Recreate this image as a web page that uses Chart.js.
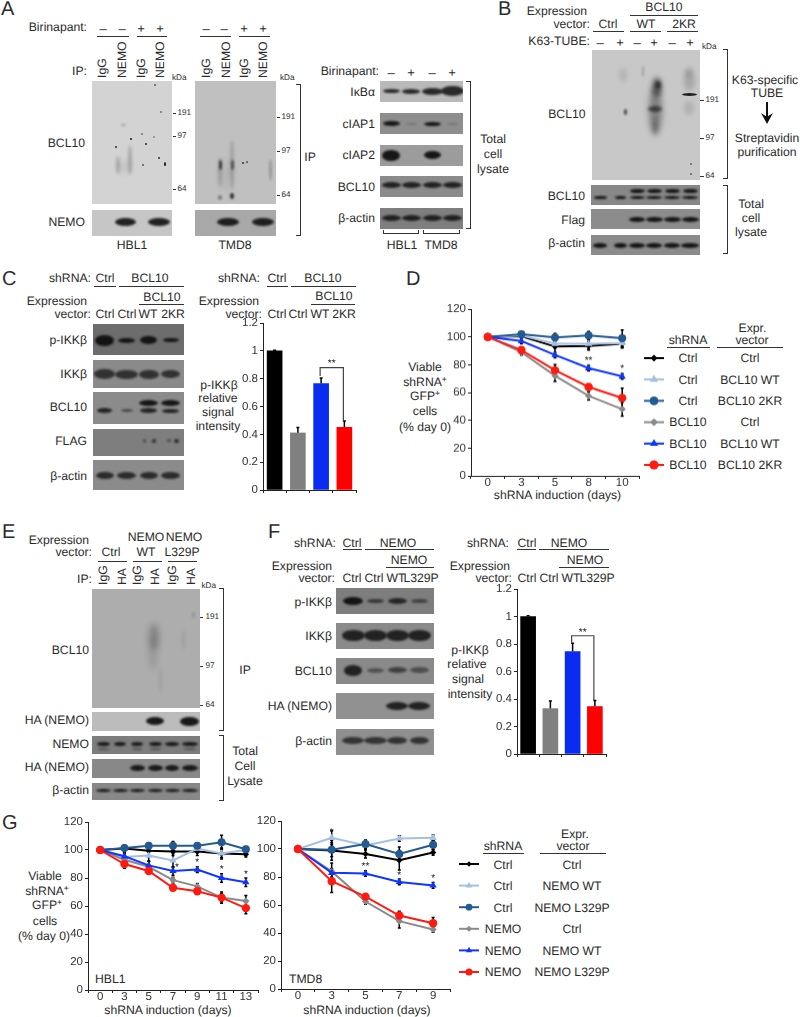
<!DOCTYPE html>
<html><head><meta charset="utf-8">
<script src="https://cdn.jsdelivr.net/npm/chart.js@4"></script>
<style>
html,body{margin:0;padding:0;background:#fff;width:800px;height:1017px;overflow:hidden;position:relative;font-family:"Liberation Sans",Arial,sans-serif;color:#2b2b2b;text-rendering:geometricPrecision}
.t{position:absolute;white-space:nowrap;line-height:1}
.l{position:absolute;background:#333}
.b{position:absolute;overflow:hidden}
.b i{position:absolute;border-radius:50%;display:block}
.br{position:absolute;border:1px solid #333;border-left:none;box-sizing:border-box}
canvas{position:absolute}
sup{font-size:.7em;line-height:0;vertical-align:.45em}
</style></head><body>
<script>
// ---------- chart values ----------
const barLabels = ['Ctrl','Ctrl','WT','2KR'];
const barColors = ['#000000','#808080','#0a2cf0','#ff0000'];
const barC = [1, 0.41, 0.765, 0.45];
const barCerr = [0.005, 0.04, 0.04, 0.045];
const barF = [1, 0.33, 0.745, 0.345];
const barFerr = [0.005, 0.055, 0.06, 0.045];

const daysD = ['0','3','5','8','10'];
const dBlack = [100,100.5,93,93.5,95];
const dLight = [100,101,95,95,95.5];
const dDark  = [100,102,99.5,101,99];
const dGray  = [100,89,72,57.5,48];
const dBlue  = [100,97,87,77.5,71.5];
const dRed   = [100,90.5,76,64,56];
const dBlackE = [0,1,6,3,3];
const dLightE = [0,1,3,4,3];
const dDarkE  = [0,1,3,3,6];
const dGrayE  = [0,2,4,3,5];
const dBlueE  = [0,2,2,2,2];
const dRedE   = [0,2,4,2,7];

const daysG1 = ['0','3','5','7','9','11','13'];
const g1Black = [100,101,99.5,99,99,97.5,97];
const g1Light = [100,95,96,92.5,101,97.5,100];
const g1Dark  = [100,101.5,103,103,103,105.5,100.5];
const g1Gray  = [100,93,88,78.5,74,66,63.5];
const g1Blue  = [100,95.5,89,85,86,80,77];
const g1Red   = [100,90,85,73,70.5,66,58.5];
const g1BlackE = [0,2,4,3,3,3,2];
const g1LightE = [0,3,4,5,3,4,2];
const g1DarkE  = [0,2,2,3,2,5,2];
const g1GrayE  = [0,3,4,2,2,3,4];
const g1BlueE  = [0,2,3,3,2,3,3];
const g1RedE   = [0,3,2,2,2,4,4];

const daysG2 = ['0','3','5','7','9'];
const g2Black = [100,99,96.5,92,97.5];
const g2Light = [100,108,102.5,107.5,108];
const g2Dark  = [100,99.5,103.5,96.5,103];
const g2Gray  = [100,84,62.5,48.5,42.5];
const g2Blue  = [100,83,82.5,76.5,74];
const g2Red   = [100,77,66,52.5,47];
const g2BlackE = [0,7,3,7,2];
const g2LightE = [0,5,3,2,2];
const g2DarkE  = [0,5,3,5,3];
const g2GrayE  = [0,6,2,5,2];
const g2BlueE  = [0,3,2,2,2];
const g2RedE   = [0,8,2,3,4];

const seriesStyle = [
 {color:'#000000',style:'rectRot',r:3.2},
 {color:'#a6bfe2',style:'triangle',r:4.2},
 {color:'#245a92',style:'circle',r:4},
 {color:'#8a8a8a',style:'rectRot',r:3.6},
 {color:'#0f35ff',style:'triangle',r:4.2},
 {color:'#ff1a10',style:'circle',r:4.2}
];
const legendX = [0,0.5,1];
const legendRows = [0,1,2,3,4,5];

// ---------- DOM helpers ----------
const FF='"Liberation Sans",Arial,sans-serif';
const BASE=12.2, SMALL=8.2;
function T(s,x,y,a,size){ // a: l/r/c
  const d=document.createElement('div');d.className='t';d.innerHTML=s;
  d.style.fontSize=(size||BASE)+'px';d.style.left=x+'px';d.style.top=y+'px';
  d.style.transform='translate('+(a==='r'?'-100%':a==='c'?'-50%':'0')+',-50%)';
  document.body.appendChild(d);
}
function VT(s,x,bottom){ // rotated label
  const d=document.createElement('div');d.className='t';d.textContent=s;
  d.style.fontSize=BASE+'px';document.body.appendChild(d);
  const h=d.offsetHeight;
  d.style.transformOrigin='0 0';
  d.style.left=(x-h/2)+'px';d.style.top=bottom+'px';d.style.transform='rotate(-90deg)';
}
function H(x1,x2,y){const d=document.createElement('div');d.className='l';d.style.cssText+='left:'+x1+'px;top:'+y+'px;width:'+(x2-x1)+'px;height:1px';document.body.appendChild(d);}
function BR(x,y1,y2){const d=document.createElement('div');d.className='br';d.style.cssText+='left:'+(x-4)+'px;top:'+y1+'px;width:5px;height:'+(y2-y1)+'px';document.body.appendChild(d);}
function U(x1,x2,y){const d=document.createElement('div');d.className='br';d.style.cssText+='left:'+x1+'px;top:'+y+'px;width:'+(x2-x1)+'px;height:4px;border:1px solid #333;border-top:none';document.body.appendChild(d);}
function BL(x1,y1,x2,y2,bg,bands){
  const d=document.createElement('div');d.className='b';
  d.style.cssText+='left:'+x1+'px;top:'+y1+'px;width:'+(x2-x1)+'px;height:'+(y2-y1)+'px;background:'+bg;
  (bands||[]).forEach(k=>{const [cx,cy,w,h,al,bl]=k;const i=document.createElement('i');
    i.style.cssText='left:'+(cx-w/2-x1)+'px;top:'+(cy-h/2-y1)+'px;width:'+w+'px;height:'+h+'px;background:rgba(15,15,15,'+(al==null?0.9:al)+');filter:blur('+(bl==null?1:bl)+'px)';
    d.appendChild(i);});
  document.body.appendChild(d);
}
function row(y,xs,w,h,al,jit){return xs.map((x,i)=>[x,y,Array.isArray(w)?w[i]:w,Array.isArray(h)?h[i]:h,Array.isArray(al)?al[i]:al,jit]);}

// ---------- Panel A ----------
T('A',1,9,'l',20);
T('Birinapant:',87,27,'r');
[[103,'–'],[122,'–'],[141,'+'],[160,'+'],[206,'–'],[224,'–'],[244,'+'],[263,'+']].forEach(p=>T(p[1],p[0],27.5,'c',13));
H(97,129,36);H(137,167,36);H(200,231,36);H(239,270,36);
T('IP:',87,71,'r');
[[102,'IgG'],[122,'NEMO'],[141,'IgG'],[160,'NEMO'],[206,'IgG'],[226,'NEMO'],[244,'IgG'],[263,'NEMO']].forEach(p=>VT(p[1],p[0],78));
T('kDa',172,77.5,'l',SMALL);T('kDa',280,77.5,'l',SMALL);
BL(92,81,172,204,'#d3d3d3',[[118,165,4,18,.2,1.5],[130,160,4,30,.22,1.5],[124,167,14,12,.07,3],[123,125,5,2,.25,1],[116,147,2,2.5,.8,.4],[131,139,2,2.5,.9,.4],[146,144,2.5,2.5,.9,.4],[159,158,2,2.5,.8,.4],[165,164,2.5,4,.9,.4],[143,165,1.5,1.5,.55,.4],[155,85,1.5,1.5,.55,.4],[161,112,1.5,2.5,.45,.4],[142,134,1.5,1.5,.45,.4],[154,137,2.5,1.5,.35,.4]]);
BL(92,210,172,235.5,'#c6c6c6',row(222,[125.5,159],[21,22],8,.9));
BL(195,81,276,204,'#c0c0c0',[[220,165,3,10,.7,1],[232,165,3,10,.55,1],[220,172,4,30,.16,1.5],[232,165,4,50,.18,1.5],[226,175,14,30,.06,3],[220,197,4,5,.4,1],[232,196,4,6,.8,1],[243,163,1.5,1.5,.75,.4],[247,162,1.5,1.5,.55,.4],[270,170,3,22,.22,1.2]]);
BL(195,210,276,235.5,'#a8a8a8',row(222,[228,263],[22,22],8,.9));
T('HBL1',132,245,'c');T('TMD8',235,245,'c');
[[113,'191'],[136,'97'],[189,'64']].forEach(p=>{H(173,176,p[0]);T(p[1],177.5,p[0],'l',SMALL);});
[[117,'191'],[151,'97'],[195,'64']].forEach(p=>{H(277,280,p[0]);T(p[1],281.5,p[0],'l',SMALL);});
T('BCL10',85,142.5,'r');T('NEMO',85,222,'r');
BR(300,84,236);T('IP',310,157,'c');
T('Birinapant:',379,71,'r');
[[391,'–'],[411,'+'],[432,'–'],[452,'+']].forEach(p=>T(p[1],p[0],71.5,'c',13));
const L4=[391,411,432,452];
BL(380,81,463,102,'#b9b9b9',row(91,L4,[17,18,21,23],[4,5,7,10],.85));
BL(380,113,463,134,'#8e8e8e',row(123.5,L4,[17,11,17,11],[5,2,4,2],[.95,.2,.95,.2]));
BL(380,144.5,463,165.5,'#9c9c9c',row(155,[391,432],[18,17],[11,8],.95));
BL(380,176,463,197,'#8b8b8b',row(185,L4,19,6,.85));
BL(380,207.5,463,228.5,'#7f7f7f',row(218,L4,19,6,.85));
[[92,'IκBα'],[124,'cIAP1'],[155,'cIAP2'],[187,'BCL10'],[218,'β-actin']].forEach(p=>T(p[1],375,p[0],'r'));
BR(470,81,229);
T('Total',493,139,'c');T('cell',493,154,'c');T('lysate',493,169,'c');
U(382.5,418.5,230);U(422.5,459.5,230);
T('HBL1',402,245,'c');T('TMD8',441,245,'c');

// ---------- Panel B ----------
T('B',498,9,'l',20);
T('Expression',587,11,'r');T('vector:',590,24,'r');
T('BCL10',664,7,'c');H(630,698,14.5);
T('Ctrl',608,24,'c');T('WT',646,24,'c');T('2KR',684,24,'c');
H(593,624,31);H(630,661,31);H(667,698,31);
T('K63-TUBE:',590,41,'r');
[[600,'–'],[620,'+'],[637,'–'],[654,'+'],[672,'–'],[690,'+']].forEach(p=>T(p[1],p[0],41.5,'c',13));
T('kDa',702,47,'l',SMALL);
BL(592,50,700,179.5,'#c8c8c8',[[625.5,112,3,6,.7,1],[623,75,8,14,.1,2],[643,71,2.5,11,.2,1],
 [655,110,13,48,.4,3],[657,87,10,20,.5,2.5],[658,85,6,8,.6,1.5],[655,109,14,6,.6,1.5],[655,127,6,18,.22,2],
 [689,94,15,3,.9,.7],[689,80,11,22,.18,2.5],[689,108,10,14,.12,2],[688,72,7,9,.1,2],[691,164,2.5,2.5,.55,.6],[691,174,2.5,2.5,.55,.6]]);
[[100,'191'],[138,'97'],[176,'64']].forEach(p=>{H(700,704,p[0]);T(p[1],705.5,p[0],'l',SMALL);});
T('BCL10',585.5,114,'r');
BR(727,49,179);
T('K63-specific',765,80,'c');T('TUBE',767,93,'c');
(function(){const a=document.createElement('div');a.className='l';a.style.cssText+='left:766px;top:102px;width:2px;height:16px;background:#111';document.body.appendChild(a);
const h=document.createElement('div');h.style.cssText='position:absolute;left:761px;top:113px;width:12px;height:11px;background:#111;clip-path:polygon(0 0,50% 35%,100% 0,50% 100%)';document.body.appendChild(h);})();
T('Streptavidin',767,138,'c');T('purification',767,152,'c');
const L6B=[600,620,637,654,672,690];
BL(591,185,700,205,'#888888',row(197.5,L6B,[13,11,15,16,16,16],3.5,.95).concat(row(190.5,[637,654,672,690],[15,15,15,15],4,.95)));
BL(591,209,700,229,'#8c8c8c',row(219.5,[637,654,672,690],[16,17,17,17],5,.95));
BL(591,235,700,255,'#8b8b8b',row(245,L6B,[14,13,16,16,16,18],5,.95));
T('BCL10',585,196,'r');T('Flag',585,220,'r');T('β-actin',585,243,'r');
BR(727,185,254);
T('Total',751,204,'c');T('cell',751,218,'c');T('lysate',751,232,'c');

// ---------- Panel C ----------
T('C',2,279,'l',20);
T('shRNA:',91,278,'r');T('Ctrl',105,278,'c');T('BCL10',150,278,'c');
H(94,116,286);H(119,184,286);
T('BCL10',162,296.5,'c');H(139,184,304);
T('Expression',87,301,'r');T('vector:',91,314,'r');
[[105,'Ctrl'],[127,'Ctrl'],[148,'WT'],[173,'2KR']].forEach(p=>T(p[1],p[0],314,'c'));
const LC=[105,127,149,171];
BL(92.7,323.5,184,355,'#6d6d6d',row(340,LC,[19,17,17,16],[11,5,8,4],.95));
BL(92.7,359.5,184,388,'#8a8a8a',row(374,LC,[21,23,20,19],[10,9,9,8],.72));
BL(92.7,392,184,424,'#8b8b8b',row(410.5,LC,[15,12,17,17],[5,3,5,4],[.85,.55,.85,.85]).concat(row(402.5,[149,171],19,6,.95)));
BL(92.7,429,184,456,'#7e7e7e',[[145,441,3,4,.45,1],[154,441,4,4,.7,1],[169,440.5,4,3,.5,1],[177,440.5,5,4,.75,1]]);
BL(92.7,460,184,489.5,'#8b8b8b',row(475,LC,[18,19,18,19],7,.78));
[[340,'p-IKKβ'],[374,'IKKβ'],[407,'BCL10'],[441,'FLAG'],[476,'β-actin']].forEach(p=>T(p[1],87,p[0],'r'));
T('shRNA:',260,277.5,'r');T('Ctrl',277,277.5,'c');T('BCL10',323,277.5,'c');
H(266.5,288,285.5);H(291,356,285.5);
T('BCL10',334,296,'c');H(311,355,303.5);
T('Expression',259,301,'r');T('vector:',262,314,'r');
[[277,'Ctrl'],[298,'Ctrl'],[320,'WT'],[344,'2KR']].forEach(p=>T(p[1],p[0],314,'c'));
T('p-IKKβ',219,385,'c');T('relative',218,398,'c');T('signal',218,412,'c');T('intensity',218,426,'c');

// ---------- Panel D ----------
T('D',406,279,'l',20);
[[367,'Viable',425],[382,'shRNA<sup>+</sup>',425],[396,'GFP<sup>+</sup>',425],[411,'cells',425],[427,'(% day 0)',425]].forEach(p=>T(p[1],p[2],p[0],'c'));
T('shRNA induction (days)',557.5,494.5,'c');
T('shRNA',688,340,'c');T('Expr.',752.5,328,'c');T('vector',752,340,'c');
H(667,710,347);H(717,783,347);
const lyD=[358,379.5,401,422,443.5,465];
const lD=[['Ctrl','Ctrl'],['Ctrl','BCL10 WT'],['Ctrl','BCL10 2KR'],['BCL10','Ctrl'],['BCL10','BCL10 WT'],['BCL10','BCL10 2KR']];
lD.forEach((r,i)=>{T(r[0],688,lyD[i],'c');T(r[1],750,lyD[i],'c');});

// ---------- Panel E ----------
T('E',2,532,'l',20);
T('Expression',89,540,'r');T('vector:',92,552,'r');
T('Ctrl',111,552,'c');T('NEMO',146,537,'c');T('WT',146,552,'c');T('NEMO',184,537,'c');T('L329P',182,552,'c');
H(98,127,561);H(133,162,561);H(168,197,561);
T('IP:',92,579,'r');
[[103,'IgG'],[121.5,'HA'],[137,'IgG'],[155,'HA'],[172,'IgG'],[191,'HA']].forEach(p=>VT(p[1],p[0],585));
T('kDa',201.5,586,'l',SMALL);
BL(92,588.5,200,707.5,'#adadad',[[154,637,10,26,.28,3],[153,655,8,30,.13,3],[160,680,3,24,.07,1.5],[183,640,3,20,.07,1.5],[193,615,3,6,.15,1]]);
[[616.5,'191'],[666,'97'],[705,'64']].forEach(p=>{H(200,203,p[0]);T(p[1],205.5,p[0],'l',SMALL);});
T('BCL10',89,650,'r');
BL(92,712,200,730.5,'#bcbcbc',row(721,[155,189],[18,19],[8,9],.95));
BL(92,735.5,200,754,'#7d7d7d',row(744,[103,120,137,155,172,190],[13,12,12,13,14,16],4,.9).concat(row(749,[103,137,155,190],[11,10,11,12],2,.4)));
BL(92,759,200,777.5,'#888888',row(767.5,[137,155,172,190],[15,15,14,16],6,.92));
BL(92,783,200,800,'#888888',row(790.5,[103,120,137,155,172,190],[15,15,15,15,15,16],3.5,.92));
T('HA (NEMO)',89,720,'r');T('NEMO',89,743.5,'r');T('HA (NEMO)',89,767,'r');T('β-actin',89,790,'r');
BR(223,588,730.5);T('IP',245,669.5,'c');
BR(223,735,801);T('Total',245,751,'c');T('Cell',245,766,'c');T('Lysate',245,781,'c');

// ---------- Panel F ----------
T('F',268,532,'l',20);
T('shRNA:',336,543,'r');T('Ctrl',352,543,'c');T('NEMO',398,543,'c');
H(342.5,362,549);H(364.5,434,549);
T('NEMO',409,560,'c');H(386,434,567);
T('Expression',332,565.5,'r');T('vector:',335,578,'r');
[[352,'Ctrl'],[374,'Ctrl'],[396,'WT'],[421,'L329P']].forEach(p=>T(p[1],p[0],578,'c'));
const LF=[353,375,397,419];
BL(336,588,434,614,'#7e7e7e',row(601,LF,[20,17,19,17],[8,4,6,4],[.95,.65,.8,.55]));
BL(336,623,434,649,'#8a8a8a',row(635,LF,[23,23,23,23],11,.85));
BL(336,658,434,684,'#8a8a8a',row(670,LF,[18,17,19,19],[11,5,6,6],[.85,.45,.6,.5]));
BL(336,693,434,719,'#919191',row(706,[397,419],22,8,.85));
BL(336,729,434,755,'#8f8f8f',row(740.5,LF,[22,23,20,19],7,.72));
[[602,'p-IKKβ'],[636,'IKKβ'],[671,'BCL10'],[706,'HA (NEMO)'],[741,'β-actin']].forEach(p=>T(p[1],332,p[0],'r'));
T('shRNA:',509,543,'r');T('Ctrl',527,543,'c');T('NEMO',569,543,'c');
H(517,536,549);H(539,609,549);
T('NEMO',585,560,'c');H(559,609,567);
T('Expression',510,565.5,'r');T('vector:',512,578,'r');
[[527,'Ctrl'],[549,'Ctrl'],[571,'WT'],[597,'L329P']].forEach(p=>T(p[1],p[0],578,'c'));
T('p-IKKβ',470,650,'c');T('relative',467,664,'c');T('signal',468,679,'c');T('intensity',470,694,'c');

// ---------- Panel G ----------
T('G',2,823,'l',20);
[[876,'Viable',45],[891,'shRNA<sup>+</sup>',47],[905,'GFP<sup>+</sup>',47],[921,'cells',45],[936,'(% day 0)',44]].forEach(p=>T(p[1],p[2],p[0],'c'));
T('HBL1',95,979,'l');T('TMD8',289,979,'l');
T('shRNA induction (days)',168,1010,'c');T('shRNA induction (days)',367,1010,'c');
T('shRNA',503,846,'c');T('Expr.',575,834,'c');T('vector',573,846,'c');
H(483,524,853);H(539.5,606,853);
const lyG=[864.5,886,907.5,929,950.5,972];
const lG=[['Ctrl','Ctrl'],['Ctrl','NEMO WT'],['Ctrl','NEMO L329P'],['NEMO','Ctrl'],['NEMO','NEMO WT'],['NEMO','NEMO L329P']];
lG.forEach((r,i)=>{T(r[0],503,lyG[i],'c');T(r[1],572,lyG[i],'c');});

// ---------- Chart.js ----------
const errPlugin={id:'errs',beforeDraw(c){c.ctx.textRendering='geometricPrecision';},
 beforeDatasetsDraw(c){
  const ctx=c.ctx,y=c.scales.y;ctx.save();ctx.strokeStyle='#000';
  c.data.datasets.forEach((ds,i)=>{ if(!ds.err)return; const m=c.getDatasetMeta(i);
    ds.err.forEach((e,k)=>{ if(!e)return; const px=m.data[k].x;
      const up=y.getPixelForValue(ds.data[k]+e), dn=ds.upOnly?y.getPixelForValue(ds.data[k]):y.getPixelForValue(ds.data[k]-e);
      ctx.lineWidth=1.5;ctx.beginPath();ctx.moveTo(px,up);ctx.lineTo(px,dn);
      ctx.moveTo(px-1.5,up);ctx.lineTo(px+1.5,up);
      if(!ds.upOnly){ctx.moveTo(px-1.5,dn);ctx.lineTo(px+1.5,dn);}
      ctx.stroke();});});
  ctx.restore();},
 afterDatasetsDraw(c){
  const o=c.options.plugins.errs||{},ctx=c.ctx,y=c.scales.y,x=c.scales.x;
  ctx.save();ctx.fillStyle='#222';ctx.textAlign='center';ctx.textBaseline='middle';ctx.font='10px '+FF;
  (o.stars||[]).forEach(s=>{ctx.fillText(s[2],x.getPixelForValue(s[0])+(s[3]||0),y.getPixelForValue(s[1]));});
  if(o.bracket){const b=o.bracket,x1=x.getPixelForValue(b[0])-1,x2=x.getPixelForValue(b[1])-1,yt=y.getPixelForValue(b[2]);
    ctx.strokeStyle='#444';ctx.lineWidth=1.2;ctx.beginPath();
    ctx.moveTo(x1,y.getPixelForValue(b[3]));ctx.lineTo(x1,yt);ctx.lineTo(x2,yt);ctx.lineTo(x2,y.getPixelForValue(b[4]));ctx.stroke();
    ctx.fillText('**',(x1+x2)/2,yt-4);}
  ctx.restore();}};
Chart.register(errPlugin);

const tickFont={family:FF,size:11.5};
function axes(yOpts,xShow){return {
  x:{type:'category',offset:true,border:{color:'#222',width:1},
     grid:{display:true,offset:true,drawOnChartArea:false,tickLength:3,color:'#222'},
     ticks:{display:xShow,font:tickFont,color:'#333',padding:-3,maxRotation:0,autoSkip:false},
     afterFit(s){s.height=30;}},
  y:Object.assign({min:0,border:{color:'#222',width:1},
     grid:{display:true,drawOnChartArea:false,tickLength:3,color:'#222'},
     afterFit(s){s.width=50;}},yOpts)
};}
function mk(l,r,t,b,cfg){
  const c=document.createElement('canvas');
  const W=r-l+60,Hh=b-t+40;
  c.width=W;c.height=Hh;c.style.cssText='left:'+(l-50)+'px;top:'+(t-10)+'px;width:'+W+'px;height:'+Hh+'px';
  document.body.appendChild(c);
  cfg.options=Object.assign({responsive:false,animation:false,events:[],
     layout:{padding:{top:10,right:10,left:0,bottom:0}}},cfg.options);
  return new Chart(c,cfg);
}
function barChart(l,r,t,b,labels,vals,errs,bracket){
  mk(l,r,t,b,{type:'bar',data:{labels,datasets:[{data:vals,err:errs,upOnly:true,backgroundColor:barColors,barThickness:15,borderWidth:0}]},
    options:{plugins:{legend:{display:false},tooltip:{enabled:false},errs:{bracket}},
      scales:axes({max:1.2,ticks:{stepSize:.2,font:tickFont,color:'#333',padding:2,callback:v=>String(+(+v).toFixed(1))}},false)}});
}
function lineChart(l,r,t,b,labels,series,errs,stars){
  mk(l,r,t,b,{type:'line',data:{labels,datasets:series.map((s,i)=>({data:s,err:errs[i],order:6-i,
      borderColor:seriesStyle[i].color,backgroundColor:seriesStyle[i].color,borderWidth:2,tension:0,
      pointStyle:seriesStyle[i].style,pointRadius:seriesStyle[i].r,pointBorderWidth:0,pointBackgroundColor:seriesStyle[i].color}))},
    options:{plugins:{legend:{display:false},tooltip:{enabled:false},errs:{stars}},
      scales:axes({max:120,ticks:{stepSize:20,font:tickFont,color:'#333',padding:2}},true)}});
}
function legendChart(x1,x2,y1,y2,k){
  const c=document.createElement('canvas');const W=x2-x1+20,Hh=y2-y1+24;
  c.width=W;c.height=Hh;c.style.cssText='left:'+(x1-10)+'px;top:'+(y1-12)+'px;width:'+W+'px;height:'+Hh+'px';
  document.body.appendChild(c);
  new Chart(c,{type:'scatter',data:{datasets:legendRows.map((r,i)=>({
      data:legendX.map(x=>({x,y:r})),showLine:true,clip:false,borderColor:seriesStyle[i].color,borderWidth:2,
      pointStyle:seriesStyle[i].style,pointBackgroundColor:seriesStyle[i].color,pointBorderWidth:0,
      pointRadius:[0,seriesStyle[i].r*k,0]}))},
    options:{responsive:false,animation:false,events:[],layout:{padding:{left:10,right:10,top:12,bottom:12}},
      plugins:{legend:{display:false},tooltip:{enabled:false}},
      scales:{x:{display:false,min:0,max:1},y:{display:false,min:0,max:5,reverse:true}}}});
}

barChart(263,356,322.7,490,barLabels,barC,barCerr,[2,3,0.88,0.82,0.5]);
barChart(516.7,606,589.3,754.3,barLabels,barF,barFerr,[2,3,0.86,0.81,0.39]);
lineChart(470.7,639,309.3,476,daysD,[dBlack,dLight,dDark,dGray,dBlue,dRed],[dBlackE,dLightE,dDarkE,dGrayE,dBlueE,dRedE],
  [['8',83,'**'],['10',77,'*']]);
lineChart(88,258,821.7,990,daysG1,[g1Black,g1Light,g1Dark,g1Gray,g1Blue,g1Red],[g1BlackE,g1LightE,g1DarkE,g1GrayE,g1BlueE,g1RedE],
  [['7',87.5,'*',4],['9',91,'*'],['11',86,'*'],['13',83,'*']]);
lineChart(280.7,450.3,821,989.3,daysG2,[g2Black,g2Light,g2Dark,g2Gray,g2Blue,g2Red],[g2BlackE,g2LightE,g2DarkE,g2GrayE,g2BlueE,g2RedE],
  [['3',112,'*'],['5',87.5,'**'],['7',81,'*'],['9',79,'*']]);
legendChart(644.3,664.3,358.3,464.7,1.1);
legendChart(459.3,479.3,864.3,972.3,0.85);
</script>
</body></html>
